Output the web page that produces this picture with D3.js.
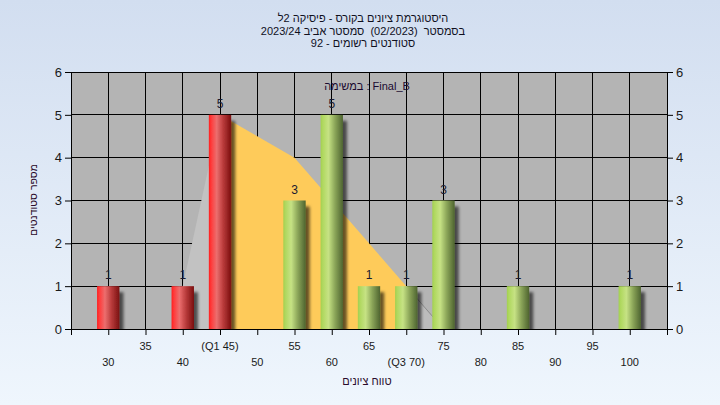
<!DOCTYPE html>
<html><head><meta charset="utf-8">
<script src="https://cdn.jsdelivr.net/npm/d3@7"></script>
<style>html,body{margin:0;padding:0;} svg{display:block;} text{white-space:pre;}</style>
</head><body>
<svg id="c" width="720" height="405"></svg>
<script>
// ---- data ----
const titleLines = ["היסטוגרמת ציונים בקורס - פיסיקה 2ל", "בסמסטר  (02/2023)  סמסטר אביב 2023/24", "סטודנטים רשומים - 92"];
const legendLabel = "במשימה : Final_B";
const xTitle = "טווח ציונים";
const yTitle = "מספר סטודנטים";
const grades = [30, 40, 45, 55, 60, 65, 70, 75, 85, 100];
const counts = [1, 1, 5, 3, 5, 1, 1, 3, 1, 1];
const xTicks = [25, 30, 35, 40, 45, 50, 55, 60, 65, 70, 75, 80, 85, 90, 95, 100, 105];
const xTickLabels = ["", "30", "35", "40", "(Q1 45)", "50", "55", "60", "65", "(Q3 70)", "75", "80", "85", "90", "95", "100", ""];
const yTicks = [0, 1, 2, 3, 4, 5, 6];
const curveX = [40, 45, 50, 55, 60, 65, 70, 75];
const curveY = [1, 5, 4.5, 4, 3, 2, 1, 0];
const q1 = 45, q3 = 70;
const passGrade = 55;

// ---- layout ----
const W = 720, H = 405;
const L = 71, R = 667, T = 72, B = 329;
const svg = d3.select("#c");
const x = d3.scaleLinear().domain([25, 105]).range([L, R]);
const y = d3.scaleLinear().domain([0, 6]).range([B, T]);
const font = "'Liberation Sans', Arial, 'DejaVu Sans', sans-serif";

const defs = svg.append("defs");
const bg = defs.append("linearGradient").attr("id", "bg").attr("x1", 0).attr("y1", 0).attr("x2", 0).attr("y2", 1);
bg.append("stop").attr("offset", 0).attr("stop-color", "#d2def0");
bg.append("stop").attr("offset", 1).attr("stop-color", "#eff6fd");

function cyl(id, stops) {
  const g = defs.append("linearGradient").attr("id", id).attr("x1", 0).attr("y1", 0).attr("x2", 1).attr("y2", 0);
  stops.forEach(s => g.append("stop").attr("offset", s[0]).attr("stop-color", s[1]));
}
cyl("red", [[0, "#ff1e1e"], [0.1, "#ff3a3a"], [0.35, "#ec6e6e"], [0.65, "#b83a3a"], [1, "#7a1010"]]);
cyl("green", [[0, "#a2d050"], [0.1, "#b0d860"], [0.35, "#c6e284"], [0.65, "#8aa458"], [1, "#4e6430"]]);

const f = defs.append("filter").attr("id", "sh").attr("x", "-50%").attr("y", "-50%").attr("width", "200%").attr("height", "200%");
f.append("feDropShadow").attr("dx", 4).attr("dy", 6).attr("stdDeviation", 1.8).attr("flood-color", "#000").attr("flood-opacity", 0.6);

defs.append("clipPath").attr("id", "plotclip").append("rect").attr("x", L).attr("y", T).attr("width", R - L).attr("height", B - T);

svg.append("rect").attr("width", W).attr("height", H).attr("fill", "url(#bg)");
svg.append("rect").attr("x", L).attr("y", T).attr("width", R - L).attr("height", B - T).attr("fill", "#b4b4b4");

// grid
const grid = svg.append("g").attr("stroke", "#000").attr("stroke-width", 1).attr("shape-rendering", "crispEdges");
grid.selectAll("line.h").data(yTicks).join("line").attr("x1", L).attr("x2", R)
  .attr("y1", d => y(d)).attr("y2", d => y(d));
grid.selectAll("line.v").data(xTicks.slice(1, -1)).join("line").attr("y1", T).attr("y2", B)
  .attr("x1", d => x(d)).attr("x2", d => x(d));

// area
const pts = curveX.map((v, i) => ({ x: v, y: curveY[i] }));
const area = d3.area().x(d => x(d.x)).y0(y(0)).y1(d => y(d.y));
svg.append("path").datum(pts.filter(d => d.x <= q1)).attr("d", area).attr("fill", "#c2c2c2");
svg.append("path").datum(pts.filter(d => d.x >= q3)).attr("d", area).attr("fill", "#bcbcbc");
svg.append("path").datum(pts.filter(d => d.x >= q3)).attr("d", d3.line().x(d => x(d.x)).y(d => y(d.y)))
  .attr("fill", "none").attr("stroke", "#8c8c8c").attr("stroke-width", 1);
svg.append("path").datum(pts.filter(d => d.x >= q1 && d.x <= q3)).attr("d", area).attr("fill", "#fecb5a");

// bars
const bw = (x(5) - x(0)) * 0.3;
const data = grades.map((g, i) => ({ g, c: counts[i] }));
const bars = svg.append("g").attr("clip-path", "url(#plotclip)").append("g").attr("filter", "url(#sh)");
bars.selectAll("rect").data(data).join("rect")
  .attr("x", d => x(d.g) - bw).attr("width", bw * 2)
  .attr("y", d => y(d.c)).attr("height", d => y(0) - y(d.c))
  .attr("fill", d => d.g < passGrade ? "url(#red)" : "url(#green)");

svg.append("g").selectAll("text").data(data).join("text")
  .attr("x", d => x(d.g)).attr("y", d => y(d.c) - 7)
  .attr("text-anchor", "middle").attr("font-family", font).attr("font-size", 12).attr("fill", "#1a1a30")
  .text(d => d.c);

// axes
const ax = svg.append("g").attr("font-family", font);
const yl = d3.axisLeft(y).tickValues(yTicks).tickSize(6).tickPadding(3).tickFormat(d3.format("d"));
const yr = d3.axisRight(y).tickValues(yTicks).tickSize(6).tickPadding(3).tickFormat(d3.format("d"));
const xb = d3.axisBottom(x).tickValues(xTicks).tickSize(6).tickFormat("");
ax.append("g").attr("transform", `translate(${L},0)`).call(yl);
ax.append("g").attr("transform", `translate(${R},0)`).call(yr);
ax.append("g").attr("transform", `translate(0,${B})`).call(xb);
ax.selectAll(".domain").attr("stroke", "#000");
ax.selectAll(".tick line").attr("stroke", "#000");
ax.selectAll(".tick text").attr("font-size", 13).attr("fill", "#1a1a1a").attr("font-family", font);

// x tick labels in two rows
svg.append("g").selectAll("text").data(xTicks.map((v, i) => ({ v, t: xTickLabels[i], i })).filter(d => d.t))
  .join("text")
  .attr("x", d => x(d.v)).attr("y", d => ((d.v - 30) / 5) % 2 === 1 ? 350 : 366)
  .attr("text-anchor", "middle").attr("font-family", font).attr("font-size", 11).attr("fill", "#1a1a1a")
  .text(d => d.t);

// titles
svg.append("g").selectAll("text").data(titleLines).join("text")
  .attr("x", 363).attr("y", (d, i) => 22 + i * 12.5)
  .attr("direction", "rtl").attr("text-anchor", "middle")
  .attr("font-family", font).attr("font-size", 11).attr("fill", "#10101e")
  .text(d => d);

svg.append("text").attr("x", 367).attr("y", 90).attr("text-anchor", "middle")
  .attr("font-family", font).attr("font-size", 11).attr("fill", "#1a0a30").text(legendLabel);

svg.append("text").attr("x", 367).attr("y", 385).attr("text-anchor", "middle").attr("direction", "rtl")
  .attr("font-family", font).attr("font-size", 11).attr("fill", "#2a0a2a").text(xTitle);

svg.append("text").attr("transform", "translate(37,200) rotate(-90)").attr("text-anchor", "middle").attr("direction", "rtl")
  .attr("font-family", font).attr("font-size", 10.5).attr("fill", "#2a0a2a").text(yTitle);
</script>
</body></html>
